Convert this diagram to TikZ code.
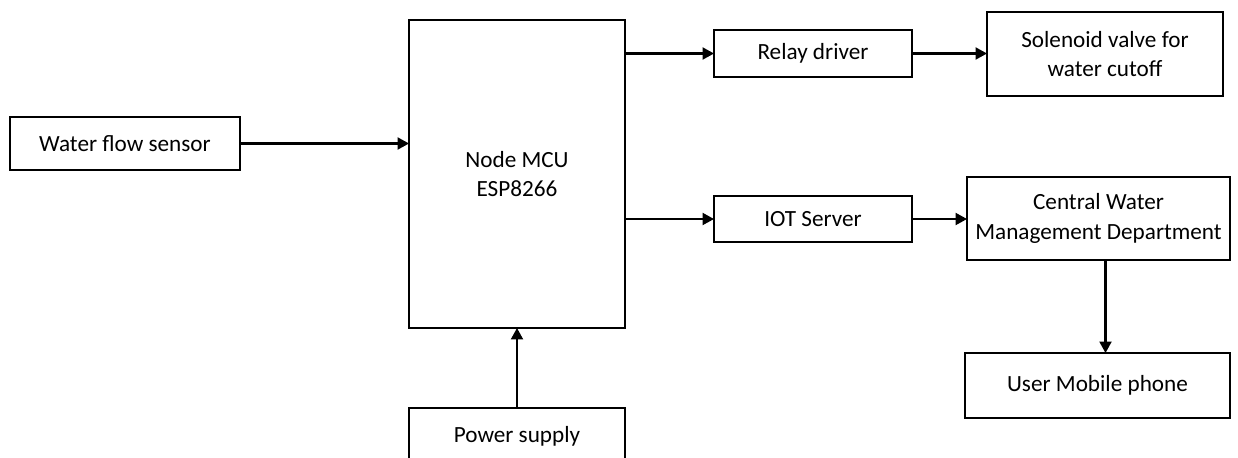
\documentclass[tikz,border=0pt]{standalone}
\usepackage{fontspec}
\setmainfont{Carlito}
\usetikzlibrary{arrows.meta}

\tikzset{
  block/.style={draw, line width=1.2pt, inner sep=0pt, outer sep=0pt, align=center,
    font=\fontsize{13.2}{17}\selectfont},
  link/.style={line width=1.2pt, -{Triangle[length=2.3mm,width=2.4mm]}}
}

\begin{document}
\begin{tikzpicture}[x=0.02cm, y=-0.02cm]
    \useasboundingbox (0,0) rectangle (1238,457);
    % blocks
    \node (sensor) at (125,143.5) [block, minimum width=4.6cm, minimum height=1.06cm] {Water flow sensor};
    \node (mcu) at (517,174) [block, minimum width=4.32cm, minimum height=6.16cm] {Node MCU\\ESP8266};
    \node (relay) at (813,53.5) [block, minimum width=3.96cm, minimum height=0.94cm] {Relay driver};
    \node (valve) at (1105,54) [block, minimum width=4.72cm, minimum height=1.68cm] {Solenoid valve for\\water cutoff};
    \node (iot) at (813,219) [block, minimum width=3.96cm, minimum height=0.92cm] {IOT Server};
    \node (central) at (1098.5,218.5) [block, minimum width=5.26cm, minimum height=1.66cm] {Central Water\\Management Department};
    \node (phone) at (1097.5,385.5) [block, minimum width=5.3cm, minimum height=1.3cm] {User Mobile phone};
    \node (power) at (517,436) [block, minimum width=4.32cm, minimum height=1.12cm] {Power supply};
    % connections
    \draw[link] (sensor) -- (sensor -| mcu.west);
    \draw[link] (mcu.east |- relay) -- (relay);
    \draw[link] (mcu.east |- iot) -- (iot);
    \draw[link] (relay) -- (relay -| valve.west);
    \draw[link] (iot) -- (iot -| central.west);
    \draw[link] ([xshift=0.14cm]central.south) -- ([xshift=0.14cm]central.south |- phone.north);
    \draw[link] (power) -- (mcu);
\end{tikzpicture}
\end{document}
